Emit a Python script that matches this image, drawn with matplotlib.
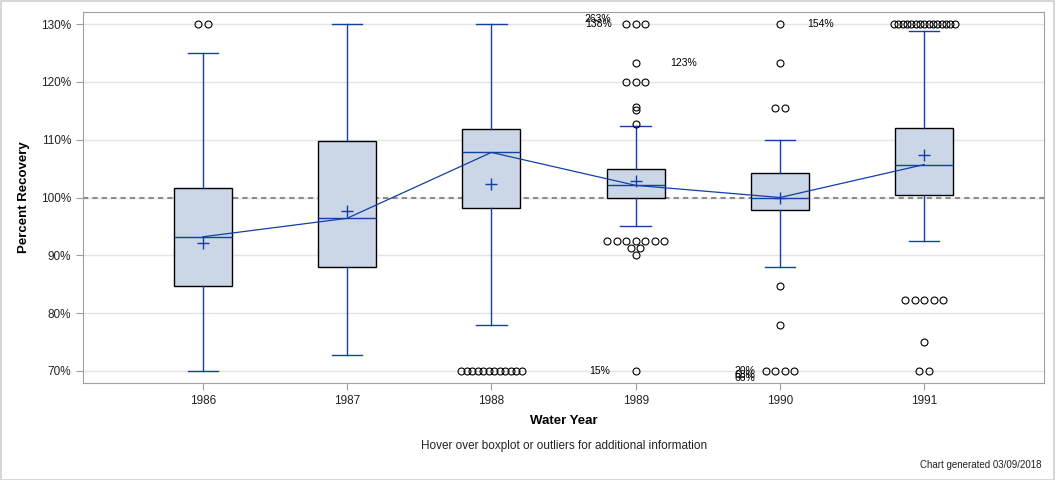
import matplotlib
matplotlib.use("Agg")
import matplotlib.pyplot as plt
from matplotlib.patches import Rectangle
from matplotlib.ticker import FuncFormatter, FixedLocator
from collections import Counter

plt.rcParams['font.family'] = ['Liberation Sans', 'DejaVu Sans']

years = ['1986', '1987', '1988', '1989', '1990', '1991']
whisker_low = [70.0, 72.8, 78.0, 95.0, 87.9, 92.4]
q1 = [84.7, 88.0, 98.1, 100.0, 97.9, 100.5]
median = [93.2, 96.4, 107.8, 102.1, 100.0, 105.7]
mean = [92.2, 97.6, 102.3, 102.8, 100.0, 107.3]
q3 = [101.6, 109.7, 111.8, 105.0, 104.2, 112.1]
whisker_high = [125.0, 130.0, 130.0, 112.3, 110.0, 128.8]

outliers = [
    [130, 130],
    [],
    [70] * 12,
    [130, 130, 130, 123.2, 120, 120, 120, 115.6, 115.1, 112.8,
     92.4, 92.4, 92.4, 92.4, 92.4, 92.4, 92.4, 91.3, 91.3, 90.0, 70],
    [130, 123.2, 115.5, 115.5, 84.6, 78.0, 70, 70, 70, 70],
    [130] * 15 + [82.2] * 5 + [75.0, 70, 70],
]

# labels for off-scale outliers
label_year = ['1989', '1989', '1989', '1989', '1990', '1990', '1990', '1990']
label_text = ['263%', '138%', '123%', '15%', '154%', '20%', '68%', '66%']
label_value = [130, 130, 123.2, 70, 130, 70, 70, 70]
label_dx = [-0.26, -0.26, 0.33, -0.25, 0.28, -0.24, -0.24, -0.24]
label_dy = [0.9, 0.0, 0.0, 0.0, 0.0, 0.0, -0.7, -1.2]

blue = '#1240a4'
fill = '#cbd6e6'

fig = plt.figure(figsize=(10.56, 4.8), dpi=100)
ax = fig.add_axes([83 / 1056, 1 - 383 / 480, (1044 - 83) / 1056, (383 - 12) / 480])

pos = list(range(len(years)))
stats = []
for i in pos:
    stats.append(dict(med=median[i], q1=q1[i], q3=q3[i], whislo=whisker_low[i],
                      whishi=whisker_high[i], mean=mean[i], fliers=[], label=years[i]))

ax.bxp(stats, positions=pos, widths=0.4, capwidths=0.21, showmeans=True,
       showfliers=False, patch_artist=True,
       boxprops=dict(facecolor=fill, edgecolor='black', linewidth=1.0),
       medianprops=dict(color=blue, linewidth=1.0),
       whiskerprops=dict(color=blue, linewidth=1.0),
       capprops=dict(color=blue, linewidth=1.0),
       meanprops=dict(marker='+', markeredgecolor=blue, markersize=8, markeredgewidth=1.0),
       zorder=3)

# line through medians
ax.plot(pos, median, color=blue, linewidth=0.9, zorder=4)

# outliers
for i in pos:
    counts = Counter(outliers[i])
    for v, n in counts.items():
        step = min(0.066, 0.42 / max(n - 1, 1))
        xs = [i + (k - (n - 1) / 2) * step for k in range(n)]
        ax.plot(xs, [v] * n, linestyle='none', marker='o', markersize=5,
                markerfacecolor='none', markeredgecolor='black',
                markeredgewidth=0.8, zorder=5, clip_on=False)

for yr, t, v, dx, dy in zip(label_year, label_text, label_value, label_dx, label_dy):
    i = years.index(yr)
    ax.text(i + dx, v + dy, t, fontsize=7.5, ha='center', va='center', zorder=6)

ax.axhline(100, color='#8c8c8c', linestyle=(0, (2.5, 2)), linewidth=1.5, zorder=2)

ax.set_xlim(-0.83, 5.83)
ax.set_ylim(67.9, 132.1)
ax.set_xticks(pos)
ax.set_xticklabels(years)
ax.yaxis.set_major_locator(FixedLocator([70, 80, 90, 100, 110, 120, 130]))
ax.yaxis.set_major_formatter(FuncFormatter(lambda v, p: f"{v:.0f}%"))
ax.grid(axis='y', color='#e4e4e4', linewidth=1.0, zorder=0)
ax.set_axisbelow(True)

for s in ax.spines.values():
    s.set_color('#a0a0a0')
ax.tick_params(axis='both', colors='#a0a0a0', labelcolor='#222222', labelsize=8.5, length=5)

ax.set_xlabel('Water Year', fontsize=9.5, fontweight='bold', labelpad=6)
ax.set_ylabel('Percent Recovery', fontsize=9.5, fontweight='bold', labelpad=8)

fig.text(564 / 1056, 1 - 446 / 480, 'Hover over boxplot or outliers for additional information',
         fontsize=8.5, ha='center', va='center', color='#222222')
fig.text(1041 / 1056, 1 - 465 / 480, 'Chart generated 03/09/2018',
         fontsize=7, ha='right', va='center', color='#222222')

fig.patches.append(Rectangle((0.0005, 0.001), 0.998, 0.997, transform=fig.transFigure,
                             fill=False, edgecolor='#d0d0d0', linewidth=1.2))

fig.savefig('out.png', dpi=100, facecolor='white')
